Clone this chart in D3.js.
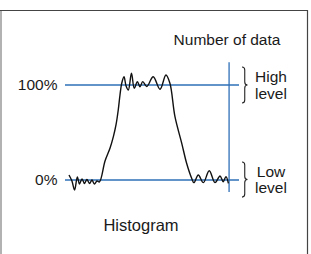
<!DOCTYPE html>
<html>
<head>
<meta charset="utf-8">
<script src="https://cdn.jsdelivr.net/npm/d3@7"></script>
<style>
  html, body { margin: 0; padding: 0; background: #fff; }
  svg { display: block; font-family: "Liberation Sans", Arial, Helvetica, sans-serif; }
</style>
</head>
<body>
<div id="chart"></div>
<script>
// signal level (arbitrary units, 0-100) and count as % of the high level
const levelX = [2.3, 4.0, 5.5, 7.1, 8.3, 9.8, 11.2, 12.6, 14.1, 15.5, 16.9, 18.4, 19.8,
  23.0, 25.9, 27.8, 29.3, 30.6, 31.6, 32.6, 33.9, 35.1, 36.4, 38.2, 39.8, 41.6, 43.1,
  44.7, 47.0, 50.7, 54.6, 58.0, 60.3, 63.2, 67.1, 69.9, 72.8, 74.1, 76.6, 79.5, 82.9,
  86.2, 89.1, 90.9, 92.5, 93.9];
const countY = [5.3, -1.1, -10.5, 3.2, -4.2, 1.1, -3.7, 0.5, -3.7, 0, -4.2, -1.1, -2.1,
  20, 33.7, 45.6, 57.9, 73.7, 89.5, 101.8, 108.7, 98.9, 94.7, 112.3, 96.5, 103.5, 98.2,
  103.5, 98.4, 108.7, 95.5, 110.5, 101.8, 66.6, 38.6, 17.6, 1.8, -2.8, 5.3, -2.8, 9.8,
  -2.8, 4.2, -1.8, 3.5, -3.5];
const refLevels = [100, 0];
const refLabels = ['100%', '0%'];
const axisX = 94.3;
const axisSpan = [124, -12.6];
const bandSpans = [[119, 81], [19, -18]];
const bandLabels = [['High', 'level'], ['Low', 'level']];
const axisTitle = 'Number of data';
const caption = 'Histogram';

const width = 311, height = 254;
const blue = '#2e6fb7';

const x = d3.scaleLinear([0, 100], [65, 239]);
const y = d3.scaleLinear([0, 100], [180, 85]);

const svg = d3.select('#chart').append('svg')
  .attr('width', width)
  .attr('height', height)
  .attr('viewBox', [0, 0, width, height]);

// frame
svg.append('path')
  .attr('fill', 'none')
  .attr('stroke', '#444')
  .attr('stroke-width', 1.2)
  .attr('d', `M0,10.5H307.5V${height}`);
svg.append('line')
  .attr('x1', 1).attr('x2', 1)
  .attr('y1', 11).attr('y2', height)
  .attr('stroke', '#999')
  .attr('stroke-width', 1.5);

// reference lines and labels
svg.append('g')
  .selectAll('line')
  .data(refLevels)
  .join('line')
  .attr('x1', x(0)).attr('x2', x(100))
  .attr('y1', d => y(d)).attr('y2', d => y(d))
  .attr('stroke', blue)
  .attr('stroke-width', 1.3);

svg.append('g')
  .attr('font-size', 15.5)
  .attr('fill', '#1a1a1a')
  .attr('text-anchor', 'end')
  .selectAll('text')
  .data(refLevels)
  .join('text')
  .attr('x', 57.5)
  .attr('y', d => y(d) + 5)
  .text((d, i) => refLabels[i]);

// vertical count axis
svg.append('line')
  .attr('x1', x(axisX)).attr('x2', x(axisX))
  .attr('y1', y(axisSpan[0])).attr('y2', y(axisSpan[1]))
  .attr('stroke', blue)
  .attr('stroke-width', 1.3);

svg.append('text')
  .attr('x', 227)
  .attr('y', 45)
  .attr('font-size', 15.5)
  .attr('fill', '#1a1a1a')
  .attr('text-anchor', 'middle')
  .text(axisTitle);

// histogram curve
const line = d3.line()
  .curve(d3.curveCatmullRom.alpha(0.5))
  .x(i => x(levelX[i]))
  .y(i => y(countY[i]));

svg.append('path')
  .attr('fill', 'none')
  .attr('stroke', '#111')
  .attr('stroke-width', 1.4)
  .attr('stroke-linejoin', 'round')
  .attr('d', line(d3.range(levelX.length)));

// braces for the high / low level bands
const brace = ([a, b]) => {
  const x0 = 242, w = 5.5, y0 = y(a), y1 = y(b), ym = (y0 + y1) / 2, r = 3, xm = x0 + w / 2;
  return `M${x0},${y0}Q${xm},${y0} ${xm},${y0 + r}L${xm},${ym - r}Q${xm},${ym} ${x0 + w},${ym}` +
    `Q${xm},${ym} ${xm},${ym + r}L${xm},${y1 - r}Q${xm},${y1} ${x0},${y1}`;
};

svg.append('g')
  .attr('fill', 'none')
  .attr('stroke', '#222')
  .attr('stroke-width', 1.1)
  .selectAll('path')
  .data(bandSpans)
  .join('path')
  .attr('d', brace);

const band = svg.append('g')
  .attr('font-size', 15.5)
  .attr('fill', '#1a1a1a')
  .attr('text-anchor', 'middle')
  .selectAll('text')
  .data(bandSpans)
  .join('text')
  .attr('x', 271)
  .attr('y', d => y((d[0] + d[1]) / 2) - 3);

band.selectAll('tspan')
  .data((d, i) => bandLabels[i])
  .join('tspan')
  .attr('x', 271)
  .attr('dy', (d, j) => j === 0 ? 0 : 16.5)
  .text(d => d);

svg.append('text')
  .attr('x', 141)
  .attr('y', 231)
  .attr('font-size', 16.5)
  .attr('fill', '#1a1a1a')
  .attr('text-anchor', 'middle')
  .text(caption);
</script>
</body>
</html>
